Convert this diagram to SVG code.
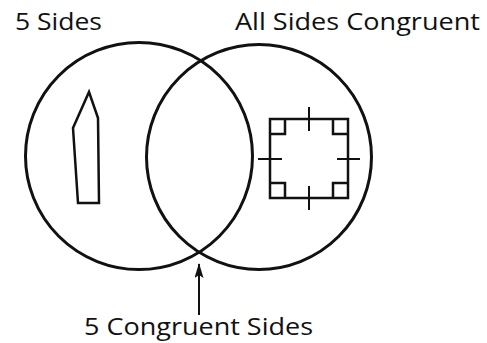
<svg xmlns="http://www.w3.org/2000/svg" width="487" height="343" viewBox="0 0 487 343">
<style>
.lbl{font-family:"Open Sans","Liberation Sans",sans-serif;font-size:24px;fill:#111}
.circ{fill:none;stroke:#111;stroke-width:3}
.shape{fill:none;stroke:#111;stroke-width:2.5;stroke-linejoin:miter}
.tick{stroke:#111;stroke-width:2}
</style>
<defs>
<marker id="ah" markerWidth="15" markerHeight="9" refX="14" refY="4.5" orient="auto" markerUnits="userSpaceOnUse" viewBox="0 0 15 9">
<path d="M15,4.5 L0,0 L3,4.5 L0,9 Z" fill="#111"/>
</marker>
</defs>
<rect width="487" height="343" fill="#fff"/>
<g id="set-five-sides">
<circle class="circ" cx="139" cy="156" r="113.5"/>
<text class="lbl" x="15" y="30" textLength="87" lengthAdjust="spacingAndGlyphs">5 Sides</text>
</g>
<g id="set-all-congruent">
<circle class="circ" cx="259" cy="157" r="112.5"/>
<text class="lbl" x="235" y="30" textLength="245" lengthAdjust="spacingAndGlyphs">All Sides Congruent</text>
</g>
<g id="pentagon">
<polygon class="shape" points="89,92 98,118 99,203 78,203 73,128"/>
</g>
<g id="square">
<rect class="shape" x="270" y="119" width="78" height="79"/>
<path class="shape" d="M270,134 H285 V119 M333,119 V134 H348 M270,183 H285 V198 M333,198 V183 H348"/>
<path class="tick" d="M309,107 V131 M309,186 V210 M258,159 H282 M337,159 H360"/>
</g>
<g id="connectors">
<line x1="199" y1="315" x2="199" y2="264" stroke="#111" stroke-width="2" marker-end="url(#ah)"/>
</g>
<g id="label-intersection">
<text class="lbl" x="198.5" y="335" text-anchor="middle" textLength="229" lengthAdjust="spacingAndGlyphs">5 Congruent Sides</text>
</g>
</svg>
